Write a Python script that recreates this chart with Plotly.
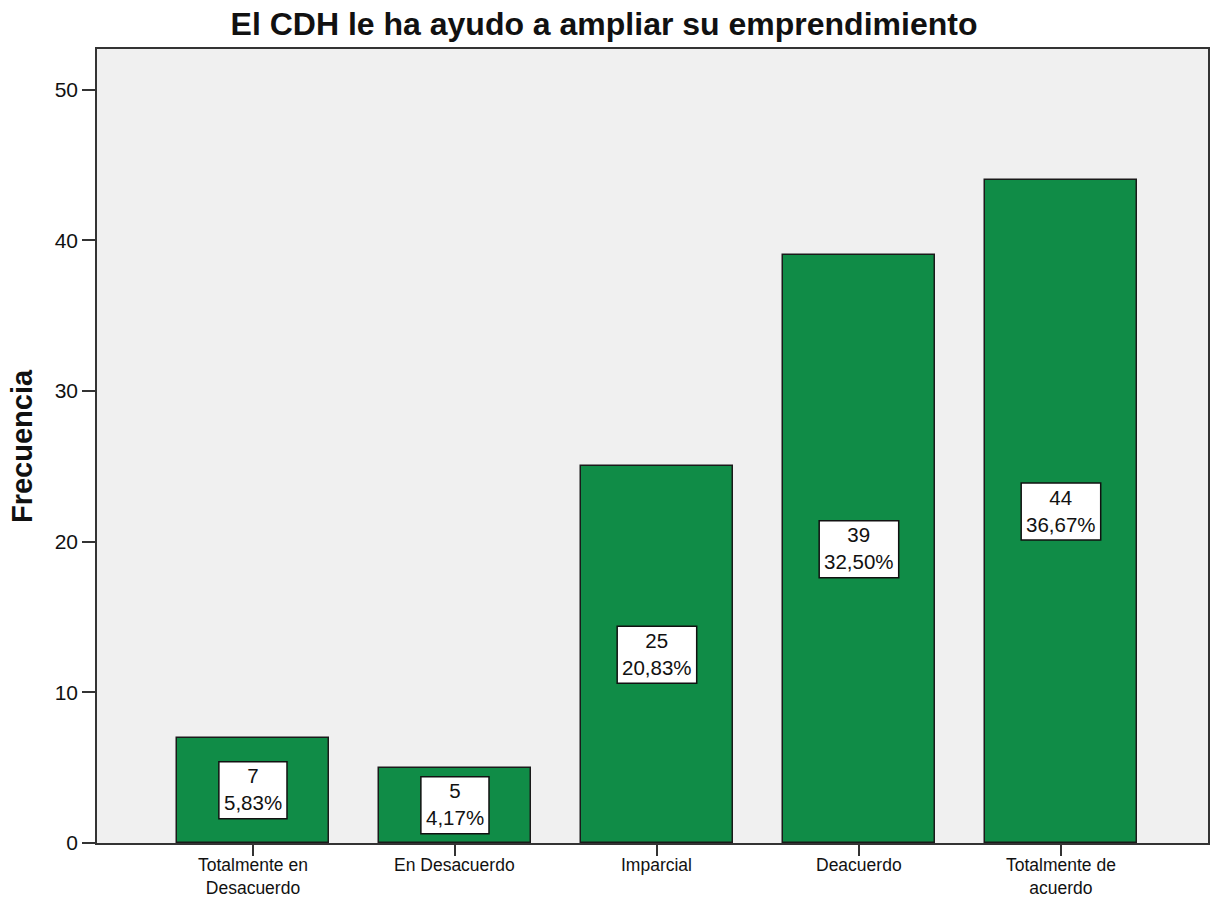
import plotly.graph_objects as go

# Frequency table: response category, count, percentage of 120 respondents
categorias = ["Totalmente en<br>Desacuerdo", "En Desacuerdo", "Imparcial",
              "Deacuerdo", "Totalmente de<br>acuerdo"]
frecuencias = [7, 5, 25, 39, 44]
porcentajes = ["5,83%", "4,17%", "20,83%", "32,50%", "36,67%"]
ticks_y = [0, 10, 20, 30, 40, 50]

FONT = "Liberation Sans, Arial, sans-serif"
TXT = "#111111"
posiciones = list(range(len(categorias)))

# Approximate Arial advance widths (em) used to size the label boxes
ANCHO_EM = {**{d: 0.556 for d in "0123456789"}, ",": 0.278, "%": 0.889}
TAM_ETIQ = 20.5


def ancho_px(texto, size):
    return sum(ANCHO_EM.get(c, 0.556) for c in texto) * size


fig = go.Figure()
fig.add_trace(go.Bar(
    x=posiciones,
    y=frecuencias,
    width=0.75,
    marker=dict(color="#108c47", line=dict(color="#1a1a1a", width=1.5)),
    hoverinfo="skip",
))

# Count / percent boxes in the middle of each bar
for pos, n, pct in zip(posiciones, frecuencias, porcentajes):
    w = max(ancho_px(str(n), TAM_ETIQ), ancho_px(pct, TAM_ETIQ)) + 10
    fig.add_shape(
        type="rect", xref="x", yref="y",
        xsizemode="pixel", ysizemode="pixel",
        xanchor=pos, yanchor=n / 2,
        x0=-w / 2, x1=w / 2, y0=-28.5, y1=28.5,
        fillcolor="white", line=dict(color=TXT, width=1.5),
        layer="above",
    )
    fig.add_annotation(
        x=pos, y=n / 2, xref="x", yref="y", yshift=1,
        text=f"{n}<br>{pct}", showarrow=False,
        font=dict(family=FONT, size=TAM_ETIQ, color=TXT),
        xanchor="center", yanchor="middle",
    )

# Category labels below the axis
for pos, cat in zip(posiciones, categorias):
    fig.add_annotation(
        x=pos, y=0, xref="x", yref="paper",
        yshift=-11, borderpad=0,
        text=cat, showarrow=False,
        font=dict(family=FONT, size=17.5, color=TXT),
        xanchor="center", yanchor="top",
    )

# Rotated axis title
fig.add_annotation(
    x=-0.0675, y=0.5, xref="paper", yref="paper",
    text="<b>Frecuencia</b>", textangle=-90, showarrow=False,
    font=dict(family=FONT, size=29, color=TXT),
    xanchor="center", yanchor="middle",
)

fig.update_layout(
    width=1227, height=901,
    margin=dict(l=97, r=19, t=49, b=58),
    paper_bgcolor="white",
    plot_bgcolor="#f0f0f0",
    showlegend=False,
    bargap=0,
    title=dict(
        text="<b>El CDH le ha ayudo a ampliar su emprendimiento</b>",
        x=604 / 1227, xanchor="center", xref="container",
        y=1 - 24 / 901, yanchor="middle", yref="container",
        font=dict(family=FONT, size=32, color=TXT),
    ),
    xaxis=dict(
        tickmode="array", tickvals=posiciones, showticklabels=False,
        range=[-0.772, 4.728], automargin=False,
        showline=True, mirror=True, linecolor="#333", linewidth=1.5,
        ticks="outside", ticklen=11, tickwidth=1.5, tickcolor="#333",
        showgrid=False, zeroline=False, fixedrange=True,
    ),
    yaxis=dict(
        tickmode="array", tickvals=ticks_y,
        range=[0, 52.7], automargin=False,
        showline=True, mirror=True, linecolor="#333", linewidth=1.5,
        ticks="outside", ticklen=13, tickwidth=1.5, tickcolor="#333",
        tickfont=dict(family=FONT, size=21, color=TXT),
        showgrid=False, zeroline=False, fixedrange=True,
    ),
)

fig.write_html("out.html")
